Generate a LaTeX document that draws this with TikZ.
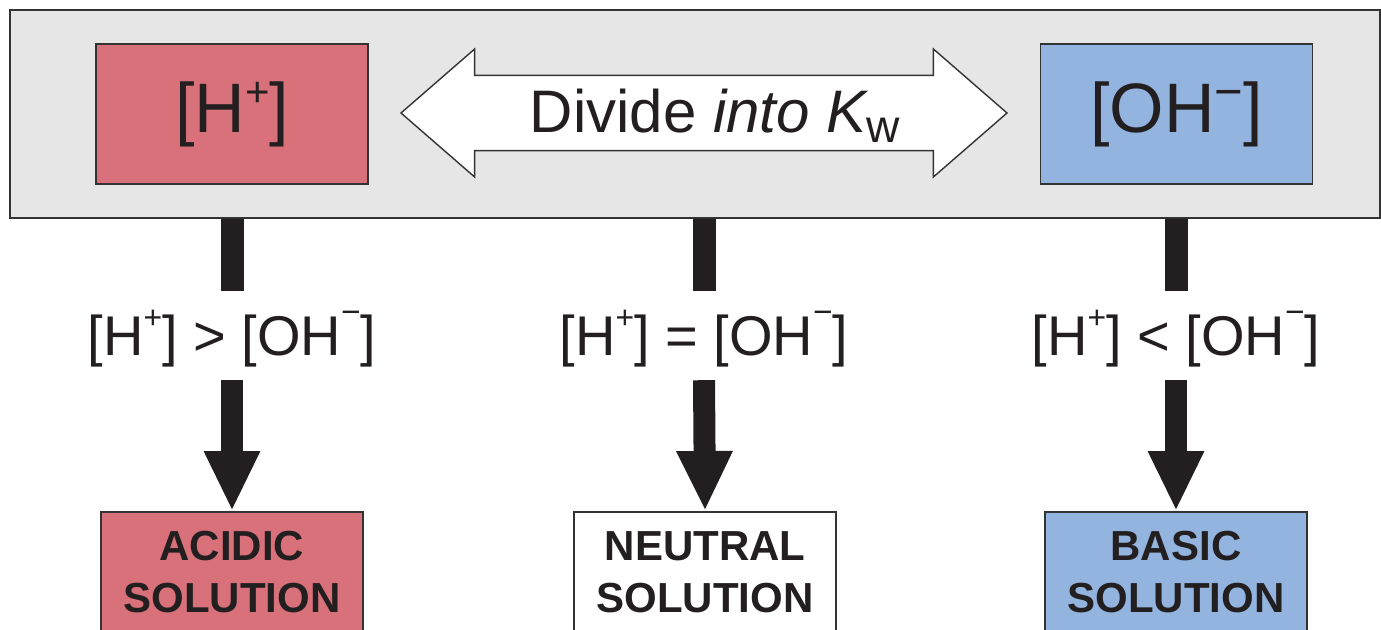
\documentclass[tikz,border=0pt]{standalone}
\usepackage{fontspec}
\setmainfont{Liberation Sans}
\usetikzlibrary{arrows.meta,shapes.arrows}
\definecolor{inkdark}{HTML}{231F20}
\definecolor{acidred}{HTML}{D9717B}
\definecolor{baseblue}{HTML}{93B4DF}
\definecolor{panelgray}{HTML}{E6E6E6}
\definecolor{edgegray}{HTML}{333333}
% raised charge sign: #1 = lift, #2 = scale, #3 = sign
\newcommand{\ioncharge}[3]{\raisebox{#1}{\scalebox{#2}{#3}}}
% lowered subscript: #1 = drop, #2 = scale, #3 = text
\newcommand{\lowindex}[3]{\raisebox{-#1}{\scalebox{#2}{#3}}}
\begin{document}
\begin{tikzpicture}[x=1pt,y=-1pt,
  panel/.style={draw=edgegray,line width=1.6pt,fill=panelgray,minimum width=1370pt,minimum height=208pt,inner sep=0pt},
  ionbox/.style={draw=edgegray,line width=1.6pt,minimum width=272pt,minimum height=140pt,inner sep=0pt,
    text height=50pt,text depth=14pt,text=inkdark,font=\fontsize{70}{80}\selectfont},
  dblarrow/.style={double arrow,draw=edgegray,line width=1.4pt,fill=white,text=inkdark,
    minimum height=606pt,minimum width=128pt,double arrow head extend=18pt,double arrow tip angle=82,
    inner sep=0pt,text height=44pt,text depth=6pt,font=\fontsize{60}{70}\selectfont},
  cond/.style={text=inkdark,minimum height=89pt,inner sep=0pt,text height=44pt,text depth=5pt,
    font=\fontsize{56}{62}\selectfont},
  solbox/.style={draw=edgegray,line width=1.6pt,minimum width=262pt,minimum height=120pt,inner sep=0pt,
    anchor=north,align=center,text=inkdark,font=\fontsize{42}{52}\selectfont\bfseries},
  bar/.style={draw=inkdark,line width=23pt},
  downarrow/.style={draw=inkdark,line width=22pt,-{Triangle[width=52pt,length=60pt]}}
]
\useasboundingbox (0,0) rectangle (1381,629);
\clip (0,0) rectangle (1381,629);

% top panel with the two concentrations
\node[panel] (panel) at (695,114) {};
\node[ionbox,fill=acidred] (hion) at (232,114) {[H\ioncharge{0.37em}{0.6}{+}]};
\node[ionbox,fill=baseblue] (ohion) at (1176.5,114) {[OH\ioncharge{0.34em}{0.7}{−}]};
\node[dblarrow] (kw) at (704,113) {\hspace*{22pt}Divide \textit{into} \textit{K}\kern-2pt\lowindex{10pt}{0.77}{w}};

% comparison labels
\node[cond] (gt) at (232,335.5) {[H\ioncharge{0.47em}{0.57}{+}] > [OH\ioncharge{0.56em}{0.6}{−}]};
\node[cond] (eq) at (704,335.5) {[H\ioncharge{0.47em}{0.57}{+}] = [OH\ioncharge{0.56em}{0.6}{−}]};
\node[cond] (lt) at (1176,335.5) {[H\ioncharge{0.47em}{0.57}{+}] < [OH\ioncharge{0.56em}{0.6}{−}]};

% resulting solutions
\node[solbox,fill=acidred] (acid) at (232,511) {ACIDIC\\SOLUTION};
\node[solbox,fill=white] (neut) at (705,511) {NEUTRAL\\SOLUTION};
\node[solbox,fill=baseblue] (base) at (1176,511) {BASIC\\SOLUTION};

% connectors
\draw[bar] (panel.south -| gt) -- (gt.north);
\draw[bar] (panel.south -| eq) -- (eq.north);
\draw[bar] (panel.south -| lt) -- (lt.north);
\draw[downarrow] (gt.south) -- (acid.north);
\draw[downarrow] (eq.south) -- (neut.north);
\draw[downarrow] (lt.south) -- (base.north);
\end{tikzpicture}
\end{document}
